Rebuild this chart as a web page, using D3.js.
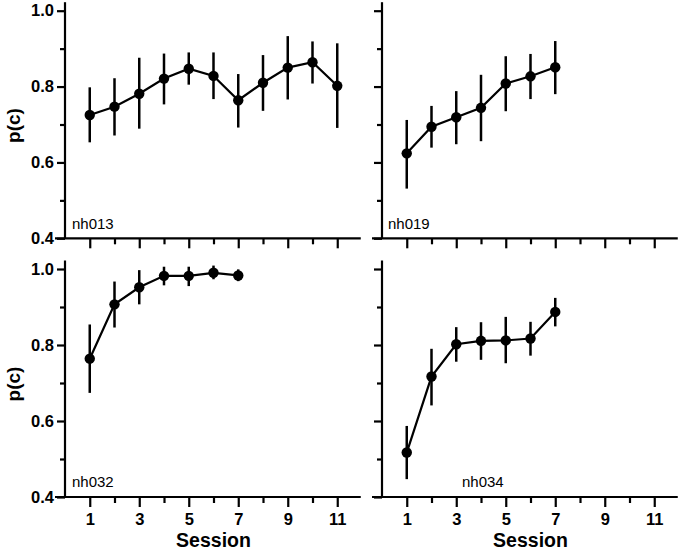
<!DOCTYPE html>
<html>
<head>
<meta charset="utf-8">
<script src="https://cdn.jsdelivr.net/npm/d3@7"></script>
<style>
  body { margin: 0; background: #fff; }
  svg { display: block; }
  text { font-family: "Liberation Sans", Arial, sans-serif; }
</style>
</head>
<body>
<svg id="chart" width="680" height="550"></svg>
<script>
// ---- data ----
const subjects = ["nh013", "nh019", "nh032", "nh034"];
const sessions = [1, 2, 3, 4, 5, 6, 7, 8, 9, 10, 11];

const meanNh013 = [0.725, 0.747, 0.781, 0.821, 0.847, 0.828, 0.764, 0.810, 0.850, 0.864, 0.802];
const upperNh013 = [0.798, 0.822, 0.876, 0.887, 0.890, 0.890, 0.833, 0.883, 0.933, 0.919, 0.914];
const lowerNh013 = [0.653, 0.671, 0.689, 0.753, 0.805, 0.767, 0.692, 0.736, 0.766, 0.808, 0.691];

const meanNh019 = [0.624, 0.694, 0.719, 0.744, 0.808, 0.827, 0.851];
const upperNh019 = [0.712, 0.749, 0.788, 0.831, 0.880, 0.886, 0.920];
const lowerNh019 = [0.531, 0.639, 0.648, 0.656, 0.735, 0.767, 0.780];

const meanNh032 = [0.764, 0.907, 0.952, 0.982, 0.982, 0.990, 0.983];
const upperNh032 = [0.854, 0.967, 0.997, 1.006, 1.006, 1.009, 0.999];
const lowerNh032 = [0.674, 0.846, 0.907, 0.957, 0.955, 0.973, 0.968];

const meanNh034 = [0.517, 0.717, 0.802, 0.811, 0.812, 0.817, 0.887];
const upperNh034 = [0.587, 0.790, 0.847, 0.860, 0.874, 0.861, 0.924];
const lowerNh034 = [0.447, 0.641, 0.756, 0.761, 0.752, 0.772, 0.849];

const xMajorTicks = [1, 3, 5, 7, 9, 11];
const xMinorTicks = [2, 4, 6, 8, 10];
const yMajorTicks = [0.4, 0.6, 0.8, 1.0];
const yMinorTicks = [0.5, 0.7, 0.9];
const yLabel = "p(c)";
const xLabel = "Session";

const seriesMeans = [meanNh013, meanNh019, meanNh032, meanNh034];
const seriesUpper = [upperNh013, upperNh019, upperNh032, upperNh034];
const seriesLower = [lowerNh013, lowerNh019, lowerNh032, lowerNh034];

// ---- layout ----
const panels = [
  { x0: 65,  yTop: 10.7, yBot: 238.3, left: true,  bottom: false, lab: [72, 229] },
  { x0: 382, yTop: 10.7, yBot: 238.3, left: false, bottom: false, lab: [388, 229] },
  { x0: 65,  yTop: 269,  yBot: 497,   left: true,  bottom: true,  lab: [72, 487] },
  { x0: 382, yTop: 269,  yBot: 497,   left: false, bottom: true,  lab: [462, 487] }
];
const unit = 24.75;

const svg = d3.select("#chart");

panels.forEach((p, i) => {
  const x = d3.scaleLinear().domain([0, 12]).range([p.x0, p.x0 + 12 * unit]);
  const y = d3.scaleLinear().domain([0.4, 1.0]).range([p.yBot, p.yTop]);
  const g = svg.append("g");

  // y axis
  const yAx = g.append("g").attr("transform", `translate(${p.x0},0)`)
    .call(d3.axisLeft(y).tickValues(yMajorTicks).tickSize(8).tickPadding(3)
      .tickFormat(p.left ? d3.format(".1f") : () => ""));
  yAx.select(".domain").attr("d", `M0,${p.yTop - 8.5}V${p.yBot}`);
  g.append("g").attr("transform", `translate(${p.x0},0)`)
    .call(d3.axisLeft(y).tickValues(yMinorTicks).tickSize(5).tickFormat(() => ""))
    .select(".domain").remove();

  // x axis
  const xAx = g.append("g").attr("transform", `translate(0,${p.yBot})`)
    .call(d3.axisBottom(x).tickValues(xMajorTicks).tickSize(10).tickPadding(6)
      .tickFormat(p.bottom ? d3.format("d") : () => ""));
  xAx.select(".domain").attr("d", `M${p.x0 - 10},0H${x(11.95)}`);
  g.append("g").attr("transform", `translate(0,${p.yBot})`)
    .call(d3.axisBottom(x).tickValues(xMinorTicks).tickSize(6).tickFormat(() => ""))
    .select(".domain").remove();

  g.selectAll(".domain").attr("stroke", "#000").attr("stroke-width", 2.2);
  g.selectAll(".tick line").attr("stroke", "#000").attr("stroke-width", 2.2);
  g.selectAll(".tick text")
    .attr("font-family", "Liberation Sans, Arial, sans-serif")
    .attr("font-size", 16.5).attr("font-weight", "bold").attr("fill", "#000");

  // data
  const means = seriesMeans[i];
  const pts = means.map((m, k) => ({ s: sessions[k], m, hi: seriesUpper[i][k], lo: seriesLower[i][k] }));

  g.append("g").selectAll("line").data(pts).join("line")
    .attr("x1", d => x(d.s)).attr("x2", d => x(d.s))
    .attr("y1", d => y(d.hi)).attr("y2", d => y(d.lo))
    .attr("stroke", "#000").attr("stroke-width", 2.5);

  g.append("path").datum(pts)
    .attr("fill", "none").attr("stroke", "#000").attr("stroke-width", 2.2)
    .attr("d", d3.line().x(d => x(d.s)).y(d => y(d.m)));

  g.append("g").selectAll("circle").data(pts).join("circle")
    .attr("cx", d => x(d.s)).attr("cy", d => y(d.m)).attr("r", 5.2)
    .attr("fill", "#000");

  // panel label
  g.append("text").attr("x", p.lab[0]).attr("y", p.lab[1])
    .attr("font-size", 15).attr("fill", "#000").text(subjects[i]);

  // axis titles
  if (p.left) {
    g.append("text")
      .attr("transform", `translate(20,${(p.yTop + p.yBot) / 2 + 1}) rotate(-90)`)
      .attr("text-anchor", "middle").attr("font-size", 19).attr("font-weight", "bold")
      .text(yLabel);
  }
  if (p.bottom) {
    g.append("text")
      .attr("x", x(6)).attr("y", 547)
      .attr("text-anchor", "middle").attr("font-size", 19.5).attr("font-weight", "bold")
      .text(xLabel);
  }
});
</script>
</body>
</html>
